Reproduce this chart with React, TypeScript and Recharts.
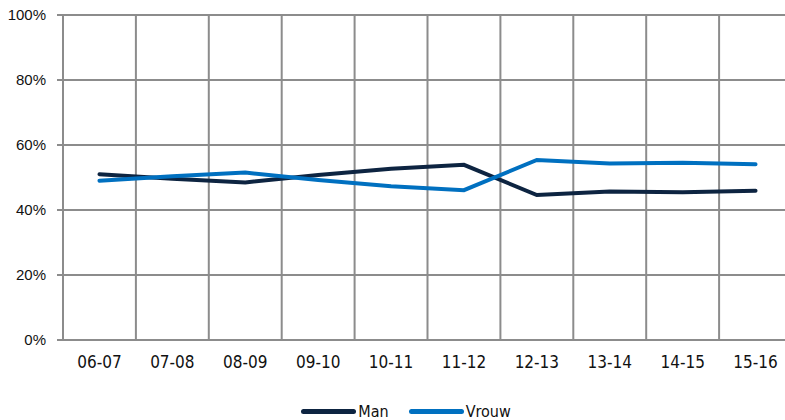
import { LineChart, Line, XAxis, YAxis, CartesianGrid, Legend } from "recharts";

const seasons = ["06-07", "07-08", "08-09", "09-10", "10-11", "11-12", "12-13", "13-14", "14-15", "15-16"];
const man = [51.0, 49.6, 48.5, 50.8, 52.7, 53.9, 44.6, 45.7, 45.5, 45.9];
const vrouw = [49.0, 50.4, 51.5, 49.2, 47.3, 46.1, 55.4, 54.3, 54.5, 54.1];
const yTicks = [0, 20, 40, 60, 80, 100];

const data = seasons.map((s, i) => ({ idx: i, season: s, Man: man[i], Vrouw: vrouw[i] }));
const catTicks = seasons.map((_, i) => i);
// grid lines sit on the category boundaries
const gridTicks = [...catTicks.map((i) => i - 0.5), seasons.length - 0.5];

const GRID = "#8c8c8c";
const MAN = "#0d2441";
const VROUW = "#0070c0";
const labelFont = "'DejaVu Sans Condensed', 'DejaVu Sans', sans-serif";

const LegendBox = () => (
    <div
        style={{
            display: "flex",
            justifyContent: "center",
            alignItems: "center",
            height: 18,
            paddingLeft: 20,
            fontFamily: labelFont,
            fontStretch: "condensed",
            fontSize: 16,
            color: "#111",
        }}
    >
        {[
            { name: "Man", color: MAN },
            { name: "Vrouw", color: VROUW },
        ].map((it, i) => (
            <div key={it.name} style={{ display: "flex", alignItems: "center", marginLeft: i ? 20 : 0 }}>
                <span style={{ display: "inline-block", width: 55, height: 5, borderRadius: 3, background: it.color, marginRight: 2 }} />
                <span>{it.name}</span>
            </div>
        ))}
    </div>
);

export default function App() {
    return (
        <div style={{ position: "absolute", left: 0, top: 0, width: 785, height: 420, overflow: "hidden", background: "#fff" }}>
            <LineChart width={800} height={420} data={data} margin={{ top: 15, right: 8, left: 0, bottom: 0 }}>
                <CartesianGrid stroke={GRID} strokeWidth={2} verticalValues={gridTicks} />
                <XAxis
                    dataKey="idx"
                    type="number"
                    domain={[-0.5, seasons.length - 0.5]}
                    ticks={catTicks}
                    tickFormatter={(v: number) => seasons[v]}
                    axisLine={false}
                    tickLine={false}
                    tickSize={0}
                    tickMargin={16}
                    height={62}
                    interval={0}
                    tick={{ fill: "#111", fontSize: 17, fontFamily: labelFont, style: { fontStretch: "condensed" } }}
                />
                <YAxis
                    domain={[0, 100]}
                    ticks={yTicks}
                    tickFormatter={(v: number) => `${v}%`}
                    axisLine={false}
                    tickLine={{ stroke: GRID, strokeWidth: 2 }}
                    tickSize={6}
                    tickMargin={11}
                    width={63}
                    tick={{ fill: "#111", fontSize: 15, fontFamily: "'Liberation Sans', Arial, sans-serif" }}
                />
                <Legend verticalAlign="bottom" content={<LegendBox />} />
                <Line dataKey="Man" stroke={MAN} strokeWidth={4} strokeLinecap="round" dot={false} isAnimationActive={false} />
                <Line dataKey="Vrouw" stroke={VROUW} strokeWidth={4} strokeLinecap="round" dot={false} isAnimationActive={false} />
            </LineChart>
        </div>
    );
}
